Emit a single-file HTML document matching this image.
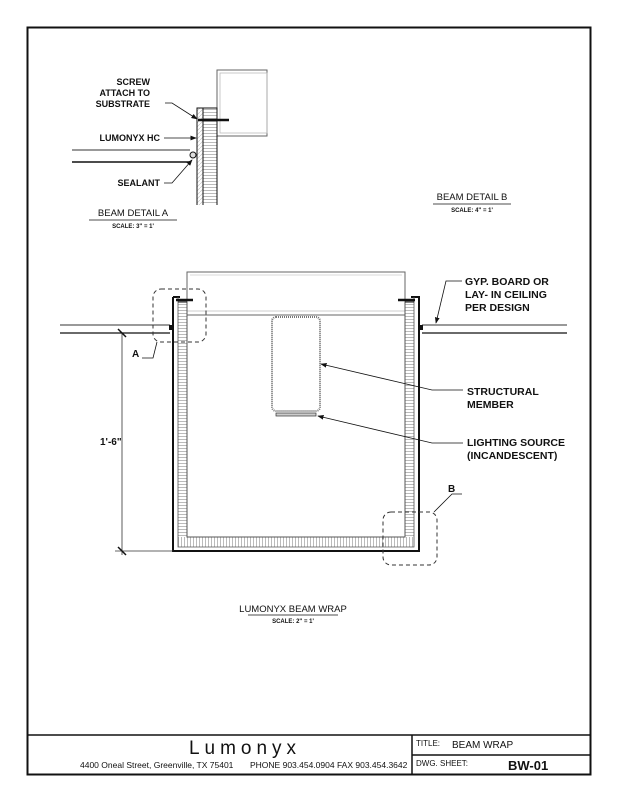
<!DOCTYPE html>
<html><head><meta charset="utf-8"><style>
body{margin:0;background:#fff}
svg{display:block}
text{font-family:"Liberation Sans",Arial,sans-serif;fill:#111}
</style></head><body>
<svg width="618" height="800" viewBox="0 0 618 800" xmlns="http://www.w3.org/2000/svg">
<defs>
<pattern id="hz" width="4" height="3" patternUnits="userSpaceOnUse"><rect width="4" height="3" fill="#fff"/><line x1="0" y1="1.5" x2="4" y2="1.5" stroke="#aaa" stroke-width="0.8"/></pattern>
<pattern id="vt" width="3" height="4" patternUnits="userSpaceOnUse"><rect width="3" height="4" fill="#fff"/><line x1="1.5" y1="0" x2="1.5" y2="4" stroke="#aaa" stroke-width="0.8"/></pattern>
<pattern id="dg" width="4" height="4" patternUnits="userSpaceOnUse"><rect width="4" height="4" fill="#fff"/><line x1="0" y1="4" x2="4" y2="0" stroke="#bbb" stroke-width="0.6"/></pattern>
<marker id="ar" markerWidth="8" markerHeight="6" refX="7" refY="3" orient="auto"><path d="M0,0 L8,3 L0,6 z" fill="#111"/></marker>
</defs>
<!-- frame -->
<rect x="27.5" y="27.5" width="563" height="747" fill="none" stroke="#111" stroke-width="2"/>
<line x1="27" y1="735" x2="591" y2="735" stroke="#111" stroke-width="1.5"/>
<line x1="412" y1="735" x2="412" y2="775" stroke="#111" stroke-width="1.5"/>
<line x1="412" y1="755" x2="591" y2="755" stroke="#111" stroke-width="1.5"/>
<text x="245" y="754" font-size="19" letter-spacing="5" text-anchor="middle">Lumonyx</text>
<text x="80" y="768" font-size="8.5">4400 Oneal Street, Greenville, TX  75401</text>
<text x="250" y="768" font-size="8.5">PHONE 903.454.0904  FAX 903.454.3642</text>
<text x="416" y="746" font-size="8">TITLE:</text>
<text x="452" y="748" font-size="10">BEAM WRAP</text>
<text x="416" y="766" font-size="8">DWG. SHEET:</text>
<text x="508" y="770" font-size="13" font-weight="bold">BW-01</text>

<!-- DETAIL A -->
<rect x="217" y="70" width="50" height="66" fill="none" stroke="#666" stroke-width="1"/>
<rect x="220" y="73" width="47" height="60" fill="none" stroke="#bbb" stroke-width="0.8"/>
<rect x="203" y="108" width="14" height="97" fill="url(#hz)" stroke="none"/>
<rect x="197" y="108" width="6" height="97" fill="url(#dg)"/>
<path d="M197,205 V108 H217 V205 M203,108 V205" fill="none" stroke="#111" stroke-width="1"/>
<line x1="198" y1="120" x2="229" y2="120" stroke="#111" stroke-width="2.5"/>
<line x1="72" y1="150" x2="190" y2="150" stroke="#333" stroke-width="1"/>
<line x1="72" y1="162" x2="190" y2="162" stroke="#111" stroke-width="1.5"/>
<circle cx="193" cy="155" r="3" fill="#ddd" stroke="#111"/>
<text x="150" y="85" font-size="9" font-weight="bold" text-anchor="end">SCREW</text>
<text x="150" y="96" font-size="9" font-weight="bold" text-anchor="end">ATTACH TO</text>
<text x="150" y="107" font-size="9" font-weight="bold" text-anchor="end">SUBSTRATE</text>
<polyline points="165,103 172,103 197,119" fill="none" stroke="#111" stroke-width="0.8" marker-end="url(#ar)"/>
<text x="160" y="141" font-size="9" font-weight="bold" text-anchor="end">LUMONYX HC</text>
<line x1="164" y1="138" x2="196" y2="138" stroke="#111" stroke-width="0.8" marker-end="url(#ar)"/>
<text x="160" y="186" font-size="9" font-weight="bold" text-anchor="end">SEALANT</text>
<polyline points="164,183 172,183 192,160" fill="none" stroke="#111" stroke-width="0.8" marker-end="url(#ar)"/>
<text x="133" y="216" font-size="9.5" text-anchor="middle">BEAM DETAIL A</text>
<line x1="89" y1="220" x2="177" y2="220" stroke="#111" stroke-width="0.8"/>
<text x="133" y="228" font-size="6" text-anchor="middle" font-weight="bold">SCALE:  3" = 1'</text>

<text x="472" y="200" font-size="9.5" text-anchor="middle">BEAM DETAIL B</text>
<line x1="433" y1="204" x2="511" y2="204" stroke="#111" stroke-width="0.8"/>
<text x="472" y="212" font-size="6" text-anchor="middle" font-weight="bold">SCALE:  4" = 1'</text>

<!-- MAIN -->
<rect x="187" y="272" width="218" height="43" fill="none" stroke="#666" stroke-width="1"/>
<line x1="187" y1="311" x2="405" y2="311" stroke="#bbb" stroke-width="0.8"/>
<line x1="190" y1="275" x2="402" y2="275" stroke="#ccc" stroke-width="0.8"/>
<!-- walls -->
<rect x="178" y="302" width="9" height="235" fill="url(#hz)"/>
<rect x="405" y="302" width="9" height="235" fill="url(#hz)"/>
<rect x="178" y="537" width="236" height="10" fill="url(#vt)"/>
<path d="M173,297 V551 H419 V297 H411 M173,297 H180" fill="none" stroke="#111" stroke-width="2"/>
<path d="M178,297 V547 H414 V297" fill="none" stroke="#555" stroke-width="0.8"/>
<path d="M187,302 V537 H405 V302" fill="none" stroke="#555" stroke-width="1"/>
<line x1="178" y1="302" x2="187" y2="302" stroke="#111"/>
<line x1="405" y1="302" x2="414" y2="302" stroke="#111"/>
<line x1="176" y1="300" x2="193" y2="300" stroke="#111" stroke-width="2.5"/>
<line x1="398" y1="300" x2="415" y2="300" stroke="#111" stroke-width="2.5"/>
<!-- ceiling -->
<line x1="60" y1="325" x2="170" y2="325" stroke="#333"/>
<line x1="60" y1="333" x2="170" y2="333" stroke="#111" stroke-width="1.2"/>
<rect x="169" y="325" width="4" height="5" fill="#111"/>
<line x1="422" y1="325" x2="567" y2="325" stroke="#333"/>
<line x1="422" y1="333" x2="567" y2="333" stroke="#111" stroke-width="1.2"/>
<rect x="419" y="325" width="4" height="5" fill="#111"/>
<!-- structural member -->
<rect x="272" y="317" width="48" height="94" rx="4" fill="none" stroke="#777" stroke-width="2" stroke-dasharray="1 1"/>
<rect x="276" y="413" width="40" height="3" fill="#ccc" stroke="#333" stroke-width="0.7"/>
<!-- dims -->
<line x1="122" y1="333" x2="122" y2="555" stroke="#333" stroke-width="0.8"/>
<line x1="115" y1="551" x2="173" y2="551" stroke="#333" stroke-width="0.8"/>
<line x1="118" y1="547" x2="126" y2="555" stroke="#111" stroke-width="1.5"/>
<line x1="118" y1="329" x2="126" y2="337" stroke="#111" stroke-width="1.5"/>
<text x="100" y="445" font-size="10" font-weight="bold">1'-6"</text>
<!-- callouts -->
<rect x="153" y="289" width="53" height="53" rx="8" fill="none" stroke="#333" stroke-dasharray="4 3"/>
<polyline points="142,358 153,358 157,342" fill="none" stroke="#111" stroke-width="0.8"/>
<text x="132" y="357" font-size="10" font-weight="bold">A</text>
<rect x="383" y="512" width="54" height="53" rx="8" fill="none" stroke="#333" stroke-dasharray="4 3"/>
<polyline points="462,494 452,494 434,512" fill="none" stroke="#111" stroke-width="0.8"/>
<text x="448" y="492" font-size="10" font-weight="bold">B</text>
<text x="465" y="285" font-size="10.5" font-weight="bold">GYP. BOARD OR</text>
<text x="465" y="298" font-size="10.5" font-weight="bold">LAY- IN CEILING</text>
<text x="465" y="311" font-size="10.5" font-weight="bold">PER DESIGN</text>
<polyline points="462,281 446,281 436,323" fill="none" stroke="#111" stroke-width="0.8" marker-end="url(#ar)"/>
<text x="467" y="395" font-size="10.5" font-weight="bold">STRUCTURAL</text>
<text x="467" y="408" font-size="10.5" font-weight="bold">MEMBER</text>
<polyline points="463,390 432,390 321,364" fill="none" stroke="#111" stroke-width="0.8" marker-end="url(#ar)"/>
<text x="467" y="446" font-size="10.5" font-weight="bold">LIGHTING SOURCE</text>
<text x="467" y="459" font-size="10.5" font-weight="bold">(INCANDESCENT)</text>
<polyline points="463,443 432,443 318,416" fill="none" stroke="#111" stroke-width="0.8" marker-end="url(#ar)"/>
<text x="293" y="612" font-size="9.5" text-anchor="middle">LUMONYX BEAM WRAP</text>
<line x1="248" y1="615" x2="338" y2="615" stroke="#111" stroke-width="0.8"/>
<text x="293" y="623" font-size="6" text-anchor="middle" font-weight="bold">SCALE:  2" = 1'</text>
</svg>
</body></html>
